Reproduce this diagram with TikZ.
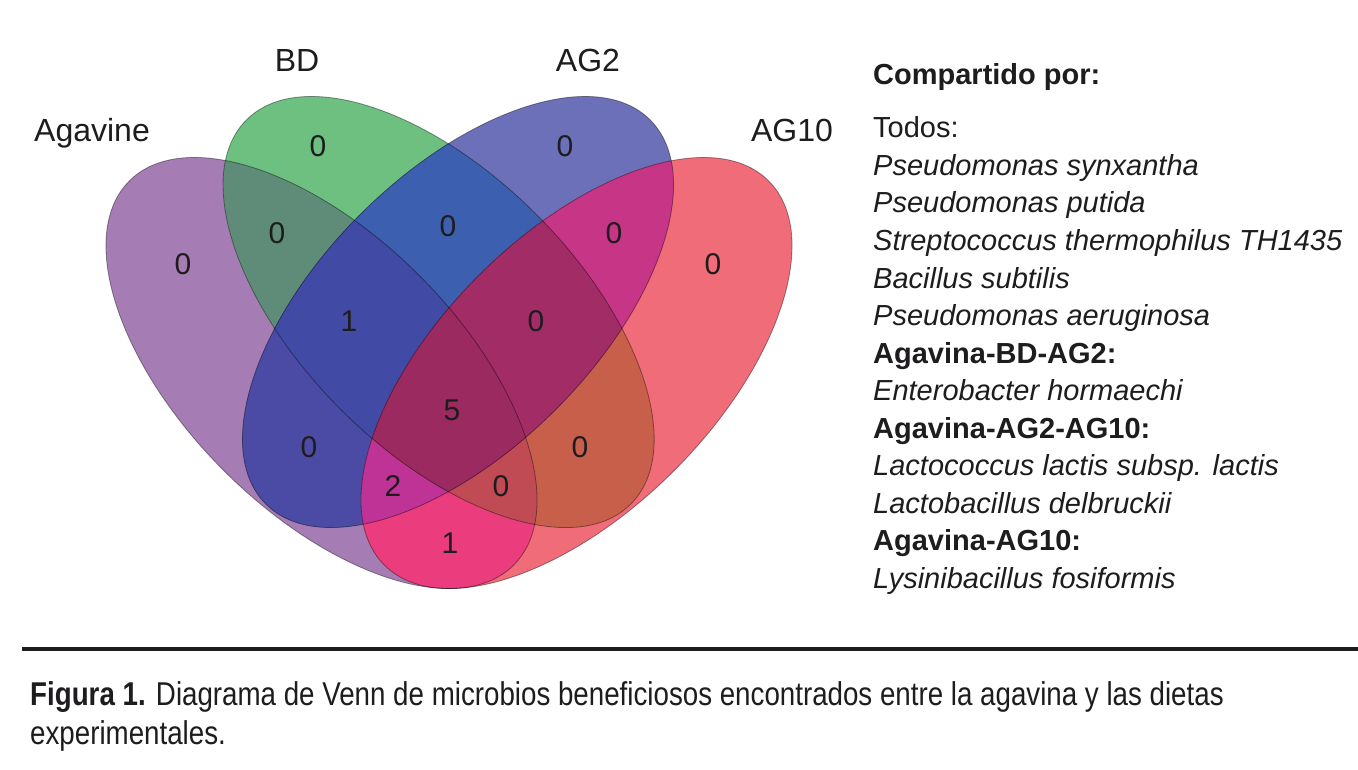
\documentclass[tikz,border=0pt]{standalone}
\usepackage{fontspec}
\setmainfont{Liberation Sans}
\newfontfamily\condfont[FakeStretch=0.84]{Liberation Sans}
% region colours
\definecolor{rP}{HTML}{A57DB4}
\definecolor{rG}{HTML}{6EC080}
\definecolor{rB}{HTML}{6C70B8}
\definecolor{rR}{HTML}{F06C78}
\definecolor{rPG}{HTML}{5F8C78}
\definecolor{rPB}{HTML}{4B4BA5}
\definecolor{rPR}{HTML}{EB3C7D}
\definecolor{rGB}{HTML}{3C5FAF}
\definecolor{rGR}{HTML}{C85F4B}
\definecolor{rBR}{HTML}{C63586}
\definecolor{rPGB}{HTML}{414BA5}
\definecolor{rPGR}{HTML}{C04B55}
\definecolor{rPBR}{HTML}{C03396}
\definecolor{rGBR}{HTML}{A22D66}
\definecolor{rPGBR}{HTML}{9A2A60}
\definecolor{ink}{RGB}{30,28,30}
\tikzset{
  eP/.style={insert path={(321.5,373) circle [x radius=271.7, y radius=138.1, rotate=-45]}},
  eG/.style={insert path={(438.6,312) circle [x radius=271.7, y radius=138.1, rotate=-45]}},
  eB/.style={insert path={(458,312) circle [x radius=271.7, y radius=138.1, rotate=45]}},
  eR/.style={insert path={(576.5,373) circle [x radius=271.7, y radius=138.1, rotate=45]}},
  outline/.style={draw=black, draw opacity=0.4, line width=0.8pt},
  setlabel/.style={font=\fontsize{32}{38}\selectfont, anchor=base, inner sep=0pt, text=ink},
  num/.style={font=\fontsize{30}{36}\selectfont, inner sep=0pt, anchor=center, text=ink},
  listline/.style={font=\fontsize{29}{37}\selectfont, anchor=base west, inner sep=0pt, text=ink},
  capline/.style={font=\condfont\fontsize{33}{39}\selectfont, anchor=base west, inner sep=0pt, text=ink}
}
\begin{document}
\begin{tikzpicture}[x=1pt,y=-1pt]
\useasboundingbox (0,0) rectangle (1358,770);
\fill[white] (0,0) rectangle (1358,770);

% single sets
\fill[rP, eP];
\fill[rG, eG];
\fill[rB, eB];
\fill[rR, eR];
% pairs
\begin{scope}\clip[eP]; \fill[rPG, eG];\end{scope}
\begin{scope}\clip[eP]; \fill[rPB, eB];\end{scope}
\begin{scope}\clip[eP]; \fill[rPR, eR];\end{scope}
\begin{scope}\clip[eG]; \fill[rGB, eB];\end{scope}
\begin{scope}\clip[eG]; \fill[rGR, eR];\end{scope}
\begin{scope}\clip[eB]; \fill[rBR, eR];\end{scope}
% triples
\begin{scope}\clip[eP]; \clip[eG]; \fill[rPGB, eB];\end{scope}
\begin{scope}\clip[eP]; \clip[eG]; \fill[rPGR, eR];\end{scope}
\begin{scope}\clip[eP]; \clip[eB]; \fill[rPBR, eR];\end{scope}
\begin{scope}\clip[eG]; \clip[eB]; \fill[rGBR, eR];\end{scope}
% all four
\begin{scope}\clip[eP]; \clip[eG]; \clip[eB]; \fill[rPGBR, eR];\end{scope}
% outlines
\path[outline, eP];
\path[outline, eG];
\path[outline, eB];
\path[outline, eR];

% set labels
\node[setlabel] (lAgavine) at (92,141.5) {Agavine};
\node[setlabel] (lBD) at (297,71.5) {BD};
\node[setlabel] (lAG2) at (588,71.5) {AG2};
\node[setlabel] (lAG10) at (792,141.5) {AG10};

% region counts
\node[num] (n1) at (183,264) {0};
\node[num] (n2) at (318,146) {0};
\node[num] (n3) at (565,146) {0};
\node[num] (n4) at (713,264) {0};
\node[num] (n5) at (277,233) {0};
\node[num] (n6) at (448,226) {0};
\node[num] (n7) at (614,233) {0};
\node[num] (n8) at (349,321) {1};
\node[num] (n9) at (536,321) {0};
\node[num] (n10) at (452,410) {5};
\node[num] (n11) at (309,447) {0};
\node[num] (n12) at (580,447) {0};
\node[num] (n13) at (393,486) {2};
\node[num] (n14) at (501,486) {0};
\node[num] (n15) at (450,543) {1};

% list
\node[listline] (t0) at (873,85) {\bfseries Compartido por:};
\node[listline] (t1) at (873,138) {Todos:};
\node[listline] (t2) at (873,175.5) {\itshape Pseudomonas synxantha};
\node[listline] (t3) at (873,213) {\itshape Pseudomonas putida};
\node[listline] (t4) at (873,250.5) {\itshape Streptococcus thermophilus TH1435};
\node[listline] (t5) at (873,288) {\itshape Bacillus subtilis};
\node[listline] (t6) at (873,325.5) {\itshape Pseudomonas aeruginosa};
\node[listline] (t7) at (873,363) {\bfseries Agavina-BD-AG2:};
\node[listline] (t8) at (873,400.5) {\itshape Enterobacter hormaechi};
\node[listline] (t9) at (873,438) {\bfseries Agavina-AG2-AG10:};
\node[listline] (t10) at (873,475.5) {\itshape Lactococcus lactis subsp. lactis};
\node[listline] (t11) at (873,513) {\itshape Lactobacillus delbruckii};
\node[listline] (t12) at (873,550.5) {\bfseries Agavina-AG10:};
\node[listline] (t13) at (873,588) {\itshape Lysinibacillus fosiformis};

% rule and caption
\coordinate (ruleL) at (22,649);
\coordinate (ruleR) at (1358,649);
\draw[line width=4pt, ink] (ruleL) -- (ruleR);
\node[capline] (cap1) at (30,705) {\textbf{Figura 1.} Diagrama de Venn de microbios beneficiosos encontrados entre la agavina y las dietas};
\node[capline] (cap2) at (30,744) {experimentales.};
\end{tikzpicture}
\end{document}
